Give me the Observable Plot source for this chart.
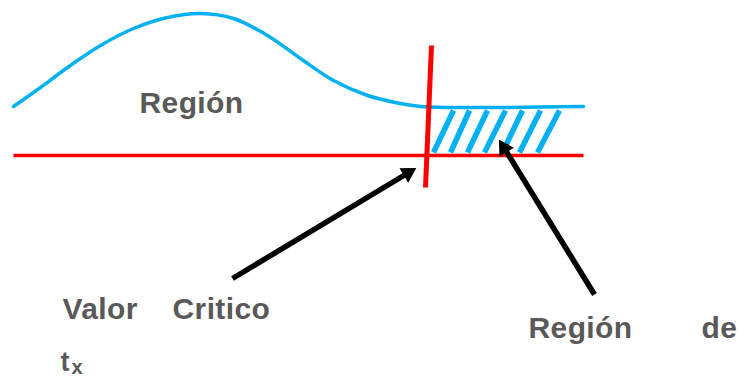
<!DOCTYPE html>
<html><head><meta charset="utf-8">
<script src="https://cdn.jsdelivr.net/npm/d3@7"></script>
<script src="https://cdn.jsdelivr.net/npm/@observablehq/plot@0.6"></script>
<style>html,body{margin:0;padding:0;background:#fff;} #chart svg{display:block;}</style>
</head><body><div id="chart"></div>
<script>
// Diagram units: x to the right, y downward (0..743, 0..379)
const curveX = [13, 40, 67, 100, 133, 167, 200, 233, 267, 300, 333, 367, 400, 420, 450, 500, 540, 583];
const curveY = [106, 87, 67, 45, 28, 17, 13, 18, 35, 58, 80, 95, 103, 106, 107, 107, 106.5, 106];

const baseLineX = [13, 583];
const baseLineY = [155, 155];

const criticalX = [431, 425];
const criticalY = [45, 187];

const hatchTopX = [453, 469, 487, 505, 522, 540, 559];
const hatchBottomX = [433, 450, 467, 484, 502, 519, 537];
const hatchTopY = [110, 110, 110, 110, 110, 110, 110];
const hatchBottomY = [152, 152, 152, 152, 152, 152, 152];

const arrowTailX = [232, 594];
const arrowTailY = [278, 294];
const arrowTipX = [415, 499];
const arrowTipY = [168, 140];

const labelText = ["Región", "Valor", "Critico", "t", "x", "Región", "de"];
const labelX = [139, 62, 172, 60, 71, 528, 701];
const labelY = [112, 318, 318, 370, 373, 337, 337];
const labelSize = [30, 30, 30, 27, 20, 30, 30];

// Build tables
const curve = curveX.map((x, i) => ({x, y: curveY[i]}));
const baseLine = [{x1: baseLineX[0], y1: baseLineY[0], x2: baseLineX[1], y2: baseLineY[1]}];
const critical = [{x1: criticalX[0], y1: criticalY[0], x2: criticalX[1], y2: criticalY[1]}];
const hatch = hatchTopX.map((x, i) => ({x1: hatchBottomX[i], y1: hatchBottomY[i], x2: x, y2: hatchTopY[i]}));

const headR = 5.6;
const tipDist = 2 * Math.sqrt(Math.PI * headR * headR / (3 * Math.sqrt(3)));
const arrows = arrowTailX.map((x, i) => {
  const dx = arrowTipX[i] - x, dy = arrowTipY[i] - arrowTailY[i];
  const len = Math.hypot(dx, dy), ux = dx / len, uy = dy / len;
  return {
    x1: x, y1: arrowTailY[i],
    x2: arrowTipX[i] - ux * (tipDist + 2), y2: arrowTipY[i] - uy * (tipDist + 2),
    hx: arrowTipX[i] - ux * tipDist, hy: arrowTipY[i] - uy * tipDist,
    rot: Math.atan2(dx, -dy) * 180 / Math.PI
  };
});
const labels = labelText.map((t, i) => ({t, x: labelX[i], y: labelY[i], s: labelSize[i]}));

const font = "'Liberation Sans', Arial, sans-serif";
const chart = Plot.plot({
  width: 743,
  height: 379,
  margin: 0,
  style: {background: "#ffffff", fontFamily: font, letterSpacing: "0.4px"},
  x: {domain: [0, 743], range: [0, 743], axis: null},
  y: {domain: [0, 379], range: [0, 379], axis: null},
  marks: [
    Plot.link(hatch, {x1: "x1", y1: "y1", x2: "x2", y2: "y2", stroke: "#00B0F0", strokeWidth: 5.5, strokeLinecap: "butt"}),
    Plot.line(curve, {x: "x", y: "y", stroke: "#00B0F0", strokeWidth: 3.5, curve: "catmull-rom"}),
    Plot.link(baseLine, {x1: "x1", y1: "y1", x2: "x2", y2: "y2", stroke: "#FF0000", strokeWidth: 3.5}),
    Plot.link(critical, {x1: "x1", y1: "y1", x2: "x2", y2: "y2", stroke: "#FF0000", strokeWidth: 5}),
    Plot.link(arrows, {x1: "x1", y1: "y1", x2: "x2", y2: "y2", stroke: "#000000", strokeWidth: 5.5}),
    Plot.dot(arrows, {x: "hx", y: "hy", r: headR, symbol: "triangle", rotate: "rot", fill: "#000000", stroke: "#000000", strokeWidth: 1}),
    ...labels.map(d => Plot.text([d], {x: "x", y: "y", text: "t", fontSize: d.s, fontWeight: "bold", fill: "#595959", textAnchor: "start", lineAnchor: "bottom", fontFamily: font}))
  ]
});
document.getElementById("chart").appendChild(chart);
</script>
</body></html>
